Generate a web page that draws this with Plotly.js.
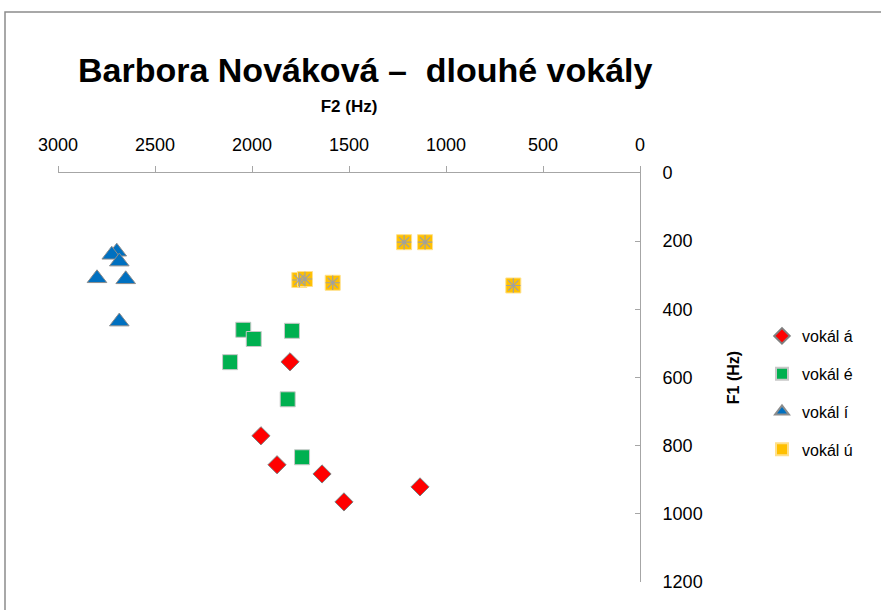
<!DOCTYPE html>
<html>
<head>
<meta charset="utf-8">
<script src="https://cdn.plot.ly/plotly-3.0.1.min.js"></script>
<style>html,body{margin:0;padding:0;background:#fff;}#chart{width:881px;height:610px;}</style>
</head>
<body>
<div id="chart"></div>
<script>
// F2 (x) and F1 (y) in Hz
const aF2 = [1804, 1954, 1871, 1639, 1526, 1134];
const aF1 = [554, 771, 856, 883, 965, 921];
const eF2 = [2045, 1991, 1794, 2113, 1816, 1742];
const eF1 = [460, 487, 463, 555, 664, 834];
const iF2 = [2697, 2723, 2684, 2799, 2651, 2684];
const iF1 = [231, 240, 260, 309, 312, 436];
const uF2 = [1756, 1727, 1584, 1216, 1108, 653];
const uF1 = [314, 311, 322, 203, 203, 330];
const seriesNames = ['vokál á', 'vokál é', 'vokál í', 'vokál ú'];
const xTicks = [3000, 2500, 2000, 1500, 1000, 500, 0];
const yTicks = [0, 200, 400, 600, 800, 1000, 1200];

const FONT = 'Liberation Sans, Arial, sans-serif';

const traces = [
  {x: aF2, y: aF1, name: seriesNames[0], type: 'scatter', mode: 'markers', legendgroup: 'a',
   marker: {symbol: 'diamond', size: 14, color: '#FF0000', line: {color: '#7F7F7F', width: 1}}},
  {x: eF2, y: eF1, name: seriesNames[1], type: 'scatter', mode: 'markers', legendgroup: 'e',
   marker: {symbol: 'square', size: 15, color: '#00B050', line: {color: '#C8C8C8', width: 1}}},
  {x: iF2, y: iF1, name: seriesNames[2], type: 'scatter', mode: 'markers', legendgroup: 'i',
   marker: {symbol: 'triangle-up', size: 17, color: '#0070C0', line: {color: '#8C8C8C', width: 1}}},
  {x: uF2, y: uF1, name: seriesNames[3], type: 'scatter', mode: 'markers', legendgroup: 'u',
   marker: {symbol: 'square', size: 15, color: '#FFC000', line: {color: '#FFE08A', width: 1}}},
  {x: uF2, y: uF1, name: seriesNames[3], type: 'scatter', mode: 'markers', legendgroup: 'u', showlegend: false,
   marker: {symbol: 'asterisk-open', size: 12, color: '#A0A0A0', line: {color: '#A0A0A0', width: 1.2}}}
];

const layout = {
  width: 881, height: 610,
  margin: {l: 58, r: 241, t: 173, b: 28},
  paper_bgcolor: '#fff', plot_bgcolor: '#fff',
  font: {family: FONT, color: '#000'},
  title: {text: 'Barbora Nováková –\u00a0 dlouhé vokály', x: 78/881, xanchor: 'left', y: 1 - 70/610, yanchor: 'middle',
          font: {family: FONT, size: 34, weight: 'bold', color: '#000'}},
  showlegend: true,
  legend: {x: 762/881, xref: 'container', y: 1 - 319/610, yref: 'container', xanchor: 'left', yanchor: 'top',
           font: {family: FONT, size: 16, color: '#000'}, tracegroupgap: 14, traceorder: 'grouped',
           itemwidth: 30, itemsizing: 'constant', bgcolor: 'rgba(0,0,0,0)'},
  xaxis: {side: 'top', range: [3000, 0], autorange: false, tickvals: xTicks, showgrid: false, zeroline: false,
          showline: true, linecolor: '#A6A6A6', linewidth: 1, ticks: 'outside', ticklen: 6, tickcolor: '#A6A6A6',
          tickfont: {family: FONT, size: 18, color: '#000'}, ticklabelstandoff: 8,
          title: {text: 'F2 (Hz)', standoff: 17, font: {family: FONT, size: 17, weight: 'bold', color: '#000'}}},
  yaxis: {side: 'right', range: [1200, 0], autorange: false, tickvals: yTicks, showgrid: false, zeroline: false,
          showline: true, linecolor: '#A6A6A6', linewidth: 1, ticks: 'inside', ticklen: 5, tickcolor: '#A6A6A6',
          tickfont: {family: FONT, size: 18, color: '#000'}, ticklabelstandoff: 18,
          title: {text: 'F1 (Hz)', standoff: 26, font: {family: FONT, size: 16, weight: 'bold', color: '#000'}}},
  shapes: [
    {type: 'rect', xref: 'paper', yref: 'paper', x0: (5-58)/582, x1: 1.7, y0: -0.2, y1: (582-12)/409,
     line: {color: '#8C8C8C', width: 1.5}, fillcolor: 'rgba(0,0,0,0)', layer: 'below'}
  ]
};

Plotly.newPlot('chart', traces, layout, {displayModeBar: false, staticPlot: true});
</script>
</body>
</html>
